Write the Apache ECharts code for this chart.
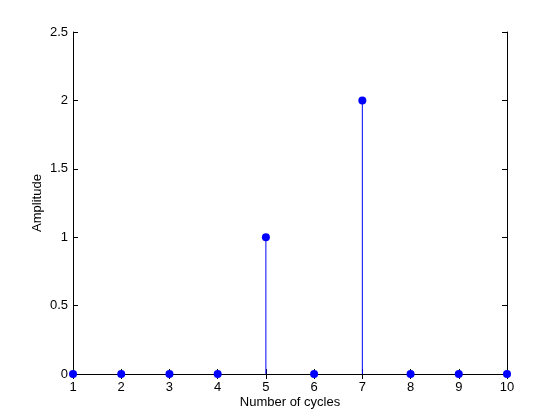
<!DOCTYPE html>
<html><head><meta charset="utf-8">
<script src="https://cdn.jsdelivr.net/npm/echarts@6/dist/echarts.min.js"></script>
<style>html,body{margin:0;padding:0;background:#fff}#c{width:560px;height:420px}</style>
</head><body><div id="c"></div>
<script>
const cycles = [1,2,3,4,5,6,7,8,9,10];
const amplitude = [0,0,0,0,1,0,2,0,0,0];
const xTicks = [1,2,3,4,5,6,7,8,9,10];
const yTicks = [0,0.5,1,1.5,2,2.5];

const pts = cycles.map((c,i)=>[c, amplitude[i]]);
const font = 'Liberation Sans, Arial, sans-serif';
const axCommon = {
  axisLine:{show:true,lineStyle:{color:'#000',width:1}},
  axisTick:{show:true,inside:true,length:5,lineStyle:{color:'#000'}},
  splitLine:{show:false}
};
const chart = echarts.init(document.getElementById('c'));
chart.setOption({
  animation:false,
  backgroundColor:'#fff',
  grid:{left:73,right:53,top:32,bottom:46},
  xAxis:[
    Object.assign({type:'value',min:1,max:10,interval:1,position:'bottom',
      name:'Number of cycles',nameLocation:'middle',nameGap:22,nameMoveOverlap:false,
      nameTextStyle:{fontFamily:font,fontSize:13,color:'#000'},
      axisLabel:{fontFamily:font,fontSize:13,color:'#000',margin:7}},axCommon),
    Object.assign({type:'value',min:1,max:10,interval:1,position:'top',axisLabel:{show:false}},axCommon)
  ],
  yAxis:[
    Object.assign({type:'value',min:0,max:2.5,interval:0.5,position:'left',
      name:'Amplitude',nameLocation:'middle',nameGap:29,nameRotate:90,nameMoveOverlap:false,
      nameTextStyle:{fontFamily:font,fontSize:13,color:'#000'},
      axisLabel:{fontFamily:font,fontSize:13,color:'#000',margin:5,formatter:v=>String(v)}},axCommon),
    Object.assign({type:'value',min:0,max:2.5,interval:0.5,position:'right',axisLabel:{show:false}},axCommon)
  ],
  series:[
    {type:'custom',xAxisIndex:0,yAxisIndex:0,data:pts,z:2,
     renderItem:function(params,api){
       const p0 = api.coord([api.value(0),0]);
       const p1 = api.coord([api.value(0),api.value(1)]);
       return {type:'line',shape:{x1:p0[0],y1:p0[1],x2:p1[0],y2:p1[1]},style:{stroke:'#0000ff',lineWidth:1}};
     }},
    {type:'scatter',xAxisIndex:0,yAxisIndex:0,data:pts,symbol:'circle',symbolSize:8,z:3,
     itemStyle:{color:'#0000ff',opacity:1}}
  ]
});
</script></body></html>
